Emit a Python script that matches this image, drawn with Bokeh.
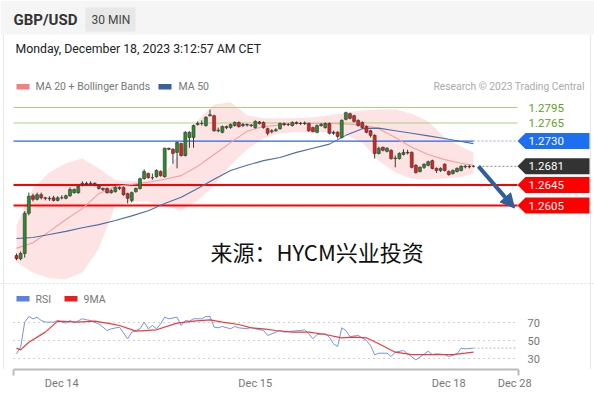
from bokeh.plotting import figure
from bokeh.models import Range1d, LinearAxis, FixedTicker, Label, Arrow, NormalHead
from bokeh.core.properties import value
from bokeh.embed import file_html
from bokeh.resources import INLINE

# ---------------- data ----------------
symbol = "GBP/USD"
timeframe = "30 MIN"
stamp = "Monday, December 18, 2023 3:12:57 AM CET"

opens = [1.2508, 1.2502, 1.2512, 1.2590, 1.2624, 1.2617, 1.2626, 1.2620, 1.2619, 1.2620,
         1.2615, 1.2620, 1.2619, 1.2624, 1.2630, 1.2630, 1.2646, 1.2648, 1.2647, 1.2648,
         1.2644, 1.2638, 1.2638, 1.2630, 1.2632, 1.2640, 1.2640, 1.2628, 1.2615, 1.2632,
         1.2638, 1.2657, 1.2667, 1.2659, 1.2661, 1.2671, 1.2661, 1.2716, 1.2714, 1.2708,
         1.2725, 1.2702, 1.2737, 1.2737, 1.2762, 1.2764, 1.2760, 1.2779, 1.2779, 1.2750,
         1.2747, 1.2758, 1.2756, 1.2760, 1.2766, 1.2760, 1.2762, 1.2761, 1.2756, 1.2767,
         1.2766, 1.2754, 1.2748, 1.2750, 1.2754, 1.2764, 1.2762, 1.2760, 1.2766, 1.2764,
         1.2764, 1.2764, 1.2756, 1.2747, 1.2760, 1.2756, 1.2764, 1.2745, 1.2747, 1.2737,
         1.2772, 1.2783, 1.2779, 1.2770, 1.2766, 1.2758, 1.2750, 1.2741, 1.2706, 1.2718,
         1.2710, 1.2712, 1.2696, 1.2696, 1.2704, 1.2708, 1.2708, 1.2683, 1.2671, 1.2679,
         1.2683, 1.2692, 1.2677, 1.2673, 1.2685, 1.2671, 1.2667, 1.2671, 1.2673, 1.2681,
         1.2680, 1.2681]
highs = [1.2512, 1.2516, 1.2594, 1.2630, 1.2628, 1.2630, 1.2630, 1.2622, 1.2623, 1.2624,
         1.2623, 1.2625, 1.2626, 1.2640, 1.2638, 1.2644, 1.2652, 1.2651, 1.2652, 1.2650,
         1.2646, 1.2640, 1.2640, 1.2637, 1.2642, 1.2642, 1.2642, 1.2630, 1.2632, 1.2640,
         1.2659, 1.2675, 1.2669, 1.2667, 1.2675, 1.2673, 1.2717, 1.2717, 1.2716, 1.2729,
         1.2727, 1.2749, 1.2749, 1.2762, 1.2768, 1.2770, 1.2778, 1.2791, 1.2781, 1.2756,
         1.2760, 1.2760, 1.2764, 1.2768, 1.2768, 1.2765, 1.2764, 1.2763, 1.2770, 1.2769,
         1.2768, 1.2756, 1.2753, 1.2755, 1.2766, 1.2766, 1.2765, 1.2768, 1.2768, 1.2767,
         1.2768, 1.2766, 1.2758, 1.2762, 1.2765, 1.2766, 1.2766, 1.2750, 1.2749, 1.2772,
         1.2787, 1.2785, 1.2781, 1.2772, 1.2768, 1.2760, 1.2752, 1.2743, 1.2719, 1.2719,
         1.2718, 1.2714, 1.2702, 1.2708, 1.2714, 1.2713, 1.2710, 1.2685, 1.2681, 1.2687,
         1.2692, 1.2694, 1.2679, 1.2679, 1.2687, 1.2673, 1.2675, 1.2679, 1.2683, 1.2684,
         1.2684, 1.2683]
lows = [1.2499, 1.2499, 1.2504, 1.2586, 1.2613, 1.2615, 1.2617, 1.2615, 1.2614, 1.2613,
        1.2613, 1.2617, 1.2617, 1.2622, 1.2628, 1.2628, 1.2642, 1.2644, 1.2644, 1.2642,
        1.2636, 1.2633, 1.2628, 1.2628, 1.2630, 1.2635, 1.2624, 1.2609, 1.2611, 1.2630,
        1.2636, 1.2655, 1.2657, 1.2655, 1.2659, 1.2661, 1.2659, 1.2712, 1.2686, 1.2677,
        1.2700, 1.2700, 1.2717, 1.2717, 1.2760, 1.2760, 1.2758, 1.2778, 1.2748, 1.2747,
        1.2745, 1.2753, 1.2754, 1.2758, 1.2756, 1.2757, 1.2758, 1.2757, 1.2754, 1.2762,
        1.2754, 1.2741, 1.2745, 1.2748, 1.2752, 1.2759, 1.2759, 1.2758, 1.2762, 1.2761,
        1.2761, 1.2748, 1.2747, 1.2745, 1.2758, 1.2754, 1.2743, 1.2742, 1.2735, 1.2735,
        1.2770, 1.2772, 1.2766, 1.2758, 1.2754, 1.2745, 1.2737, 1.2696, 1.2704, 1.2710,
        1.2708, 1.2694, 1.2679, 1.2694, 1.2702, 1.2704, 1.2677, 1.2667, 1.2669, 1.2676,
        1.2681, 1.2675, 1.2668, 1.2670, 1.2671, 1.2663, 1.2665, 1.2669, 1.2671, 1.2677,
        1.2677, 1.2679]
closes = [1.2502, 1.2512, 1.2590, 1.2623, 1.2617, 1.2626, 1.2620, 1.2619, 1.2618, 1.2615,
          1.2620, 1.2620, 1.2624, 1.2636, 1.2636, 1.2642, 1.2648, 1.2647, 1.2648, 1.2645,
          1.2638, 1.2636, 1.2630, 1.2634, 1.2640, 1.2638, 1.2626, 1.2619, 1.2630, 1.2638,
          1.2657, 1.2671, 1.2659, 1.2659, 1.2673, 1.2663, 1.2716, 1.2714, 1.2706, 1.2727,
          1.2702, 1.2747, 1.2747, 1.2760, 1.2764, 1.2764, 1.2776, 1.2781, 1.2750, 1.2751,
          1.2758, 1.2756, 1.2762, 1.2766, 1.2758, 1.2762, 1.2761, 1.2760, 1.2768, 1.2764,
          1.2756, 1.2745, 1.2750, 1.2752, 1.2764, 1.2762, 1.2762, 1.2766, 1.2764, 1.2764,
          1.2765, 1.2750, 1.2748, 1.2760, 1.2762, 1.2764, 1.2745, 1.2747, 1.2739, 1.2770,
          1.2785, 1.2774, 1.2768, 1.2760, 1.2756, 1.2747, 1.2741, 1.2706, 1.2716, 1.2712,
          1.2716, 1.2696, 1.2697, 1.2706, 1.2708, 1.2707, 1.2679, 1.2669, 1.2679, 1.2685,
          1.2690, 1.2677, 1.2673, 1.2677, 1.2673, 1.2665, 1.2673, 1.2677, 1.2681, 1.2680,
          1.2681, 1.2681]

band_idx = [0, 4, 8, 12, 16, 20, 24, 28, 32, 36, 40, 44, 48, 52, 56, 60, 64, 68, 72, 76,
            80, 84, 88, 92, 96, 100, 104, 108, 111]
ma20 = [1.2522, 1.2533, 1.2555, 1.2578, 1.2599, 1.2628, 1.2642, 1.2646, 1.2650, 1.2656,
        1.2663, 1.2681, 1.2704, 1.2727, 1.2749, 1.2758, 1.2761, 1.2764, 1.2764, 1.2764,
        1.2763, 1.2761, 1.2754, 1.2737, 1.2718, 1.2704, 1.2694, 1.2687, 1.2683]
ma50 = [1.2541, 1.2543, 1.2549, 1.2555, 1.2562, 1.2568, 1.2576, 1.2585, 1.2595, 1.2609,
        1.2621, 1.2638, 1.2656, 1.2673, 1.2683, 1.2692, 1.2698, 1.2708, 1.2716, 1.2724,
        1.2741, 1.2754, 1.2755, 1.2750, 1.2745, 1.2740, 1.2735, 1.2729, 1.2725]
bb_upper = [1.2566, 1.2638, 1.2669, 1.2687, 1.2696, 1.2677, 1.2654, 1.2652, 1.2654, 1.2667,
            1.2712, 1.2770, 1.2801, 1.2805, 1.2780, 1.2774, 1.2774, 1.2774, 1.2776, 1.2780,
            1.2785, 1.2789, 1.2791, 1.2791, 1.2783, 1.2768, 1.2737, 1.2719, 1.2708]
bb_lower = [1.2495, 1.2475, 1.2464, 1.2462, 1.2475, 1.2522, 1.2605, 1.2613, 1.2613, 1.2605,
            1.2595, 1.2615, 1.2644, 1.2683, 1.2714, 1.2735, 1.2745, 1.2747, 1.2747, 1.2747,
            1.2741, 1.2727, 1.2692, 1.2669, 1.2657, 1.2656, 1.2657, 1.2661, 1.2667]

resistances = [1.2795, 1.2765]
pivot = 1.2730
supports = [1.2645, 1.2605]

rsi_idx = [0, 1, 2, 3, 4, 5, 6, 7, 9, 10, 11, 12, 13, 14, 16, 17, 18, 20, 22, 23, 25, 27, 28,
           30, 31, 32, 33, 34, 35, 36, 37, 39, 40, 41, 42, 43, 45, 46, 47, 48, 49, 50, 52, 53,
           54, 56, 57, 58, 60, 61, 62, 64, 65, 67, 69, 70, 71, 72, 73, 75, 76, 77, 78, 79, 80,
           81, 83, 85, 86, 87, 88, 90, 91, 92, 94, 95, 97, 98, 100, 101, 102, 104, 105, 107,
           108, 109, 111]
rsi_val = [35.2, 42.6, 70.4, 76.7, 74.0, 75.9, 72.2, 70.4, 70.4, 72.2, 70.4, 69.3, 72.2, 69.6,
           74.1, 73.0, 72.2, 68.5, 61.1, 63.0, 64.8, 51.9, 59.3, 63.0, 70.4, 63.0, 66.7, 63.0,
           68.5, 75.9, 74.1, 75.9, 66.7, 72.2, 71.5, 74.1, 74.1, 76.7, 76.7, 64.8, 64.1, 65.6,
           63.0, 65.6, 64.1, 63.0, 64.8, 63.0, 61.1, 55.6, 57.4, 61.1, 59.3, 60.4, 61.1, 61.9,
           57.4, 51.9, 56.7, 57.4, 53.7, 46.3, 43.3, 64.1, 61.1, 54.4, 55.6, 50.0, 44.4, 34.1,
           35.9, 35.9, 32.2, 37.0, 38.9, 35.2, 28.5, 31.5, 38.1, 34.4, 35.2, 34.4, 32.2, 35.2,
           41.5, 40.7, 41.5]
ma9_idx = [0, 1, 3, 7, 10, 15, 19, 23, 25, 29, 34, 39, 43, 47, 50, 54, 57, 60, 63, 67, 71, 75,
           79, 82, 85, 88, 92, 96, 100, 104, 106, 109, 111]
ma9_val = [41.5, 39.6, 48.1, 59.3, 71.5, 70.4, 71.5, 68.5, 66.7, 60.4, 61.9, 69.3, 71.5, 73.0,
           70.4, 67.8, 64.1, 63.0, 61.1, 59.3, 59.3, 56.7, 53.0, 53.7, 53.0, 46.3, 37.0, 34.4,
           34.4, 34.4, 34.4, 35.9, 37.0]
rsi_levels = [70, 50, 30]

date_ticks = [11, 58, 105, 121]
date_labels = ["Dec 14", "Dec 15", "Dec 18", "Dec 28"]

# ---------------- layout constants (page pixels) ----------------
W, H = 594, 399
BAR0_PX, BAR_PX = 16.0, 4.117
P_ANCHOR, P_ANCHOR_PX, PX_PER_PRICE = 1.2795, 107.0, 5160.0
R_ANCHOR, R_ANCHOR_PX, PX_PER_RSI = 70.0, 322.0, 0.9
FRAME_TOP, FRAME_BOTTOM, FRAME_LEFT, FRAME_RIGHT = 0, 369, 0, 594


def X(px):
    return (px - BAR0_PX) / BAR_PX


def Y(py):
    return P_ANCHOR - (py - P_ANCHOR_PX) / PX_PER_PRICE


def R(py):
    return R_ANCHOR - (py - R_ANCHOR_PX) / PX_PER_RSI


def DY(px):
    return px / PX_PER_PRICE


FONT = "Roboto"

p = figure(width=W, height=H,
           x_range=Range1d(X(FRAME_LEFT), X(FRAME_RIGHT)),
           y_range=Range1d(Y(FRAME_BOTTOM), Y(FRAME_TOP)),
           x_axis_type=None, y_axis_type=None,
           toolbar_location=None, output_backend="svg",
           min_border_left=0, min_border_right=0, min_border_top=0,
           min_border_bottom=H - (FRAME_BOTTOM - FRAME_TOP),
           outline_line_color=None, background_fill_color="white",
           border_fill_color="white")
p.extra_y_ranges = {"rsi": Range1d(R(FRAME_BOTTOM), R(FRAME_TOP))}

# header band
p.quad(left=X(FRAME_LEFT), right=X(FRAME_RIGHT), bottom=Y(34), top=Y(FRAME_TOP),
       fill_color="#f5f5f5", line_color=None)
p.quad(left=X(85), right=X(135), bottom=Y(31), top=Y(7),
       fill_color="#e8e8e8", line_color=None)
# panel border (left / right)
p.segment(x0=[X(3), X(590)], x1=[X(3), X(590)], y0=[Y(34)] * 2, y1=[Y(FRAME_BOTTOM)] * 2,
          line_color="#e6e6e6", line_width=1)

# bollinger band
p.varea(x=band_idx, y1=bb_lower, y2=bb_upper, fill_color="#fde3e3")

# horizontal levels
xl, xr = X(13), X(517)
last = len(closes) - 1
p.segment(x0=[xl] * 2, x1=[xr] * 2, y0=resistances, y1=resistances,
          line_color="#a6d47f", line_width=1)
p.segment(x0=[xl], x1=[last], y0=[pivot], y1=[pivot], line_color="#2a66dd", line_width=1.2)
p.segment(x0=[last], x1=[xr], y0=[pivot], y1=[pivot], line_color="#8ea6d8",
          line_width=1, line_dash="2 2")
p.segment(x0=[xl] * 2, x1=[xr] * 2, y0=supports, y1=supports,
          line_color="#ff0000", line_width=2)
p.segment(x0=[last + 1.2], x1=[xr], y0=[closes[-1]], y1=[closes[-1]],
          line_color="#888888", line_width=1, line_dash="2 2")

# moving averages
p.line(band_idx, ma20, line_color="#f4a0a0", line_width=1.1)
p.line(band_idx, ma50, line_color="#4a6ea8", line_width=1.1)

# candles
idx = list(range(len(closes)))
tops = [max(o, c) for o, c in zip(opens, closes)]
bots = [min(o, c) for o, c in zip(opens, closes)]
cols = ["#2d8a2d" if c >= o else "#e3201b" for o, c in zip(opens, closes)]
p.segment(x0=idx, x1=idx, y0=lows, y1=highs, line_color="#3a3a3a", line_width=1)
p.vbar(x=idx, top=tops, bottom=bots, width=0.72, fill_color=cols,
       line_color="#333333", line_width=0.6)

# level tags
tag_levels = [pivot, closes[-1]] + supports
tag_colors = ["#1e6ef2", "#333333", "#ff0000", "#ff0000"]
xs, ys = [], []
for lv in tag_levels:
    xs.append([X(517), X(525), X(589), X(589), X(525)])
    ys.append([lv, lv + DY(8), lv + DY(8), lv - DY(8), lv - DY(8)])
p.patches(xs, ys, fill_color=tag_colors, line_color=None)
p.text(x=[X(528)] * len(tag_levels), y=tag_levels,
       text=[f"{v:.4f}" for v in tag_levels], text_color="white",
       text_font=value(FONT), text_font_size="11.5px", text_baseline="middle")
p.text(x=[X(528)] * len(resistances), y=resistances,
       text=[f"{v:.4f}" for v in resistances], text_color="#5fa11f",
       text_font=value(FONT), text_font_size="11.5px", text_baseline="middle")

# arrow towards target
p.add_layout(Arrow(end=NormalHead(size=14, fill_color="#2f5e9c", line_color="#2f5e9c"),
                   x_start=X(478), y_start=closes[-1], x_end=X(514),
                   y_end=supports[-1] - DY(2.5),
                   line_color="#2f5e9c", line_width=4))

# separator
p.segment(x0=[X(FRAME_LEFT)], x1=[X(FRAME_RIGHT)], y0=[Y(283)], y1=[Y(283)],
          line_color="#e0e0e0", line_dash="2 2")

# RSI panel
p.segment(x0=[X(13)] * 3, x1=[X(515)] * 3, y0=rsi_levels, y1=rsi_levels,
          line_color="#a0a0a0", line_width=1, line_dash="1 4", y_range_name="rsi")
p.line(rsi_idx, rsi_val, line_color="#7393ec", line_width=1, y_range_name="rsi")
p.line(ma9_idx, ma9_val, line_color="#f03a3a", line_width=1.2, y_range_name="rsi")
p.segment(x0=[rsi_idx[-1]], x1=[X(515)], y0=[rsi_val[-1]], y1=[rsi_val[-1]],
          line_color="#b5c6f2", line_width=1.2, line_dash="2 2", y_range_name="rsi")
p.text(x=[X(527)] * 3, y=rsi_levels, text=[str(v) for v in rsi_levels],
       text_color="#777777", text_font=value(FONT), text_font_size="11px",
       text_baseline="middle", y_range_name="rsi")

# legends
p.quad(left=[X(16), X(158)], right=[X(29), X(171)], bottom=[Y(89)] * 2, top=[Y(83.5)] * 2,
       fill_color=["#f77f7f", "#3a5fa0"], line_color=None)
p.quad(left=[X(16), X(64)], right=[X(29), X(77)], bottom=[Y(301)] * 2, top=[Y(295.5)] * 2,
       fill_color=["#5b80e6", "#ee1c1c"], line_color=None)


def lab(px, py, text, size, color, style="normal", font=FONT):
    p.add_layout(Label(x=X(px), y=Y(py), text=text, text_font=font,
                       text_font_size=size, text_color=color, text_font_style=style,
                       text_baseline="middle", text_align="left"))


lab(13, 19, symbol, "15px", "#333333", "bold")
lab(91, 19, timeframe, "12px", "#444444")
lab(15, 48, stamp, "12.3px", "#222222")
lab(35, 86, "MA 20 + Bollinger Bands", "10.5px", "#777777")
lab(178, 86, "MA 50", "10.5px", "#777777")
lab(433, 86, "Research \u00a9 2023 Trading Central", "10.3px", "#aaaaaa")
lab(35, 298.5, "RSI", "10.5px", "#777777")
lab(83, 298.5, "9MA", "10.5px", "#777777")
lab(210, 250, "来源：HYCM兴业投资", "22px", "#111111", font="Noto Sans CJK SC")

# date axis
ax = LinearAxis(ticker=FixedTicker(ticks=date_ticks, minor_ticks=[X(13), X(518)]),
                bounds=(X(13), X(518)),
                major_label_overrides={t: l for t, l in zip(date_ticks, date_labels)},
                axis_line_color="#bbbbbb", axis_line_width=2,
                major_tick_line_color=None,
                minor_tick_line_color="#bbbbbb", minor_tick_line_width=2,
                minor_tick_in=0, minor_tick_out=6,
                major_label_text_color="#777777", major_label_text_font=FONT,
                major_label_text_font_size="11px", major_label_standoff=1)
p.add_layout(ax, "below")

open("out.html", "w").write(file_html(p, INLINE))
